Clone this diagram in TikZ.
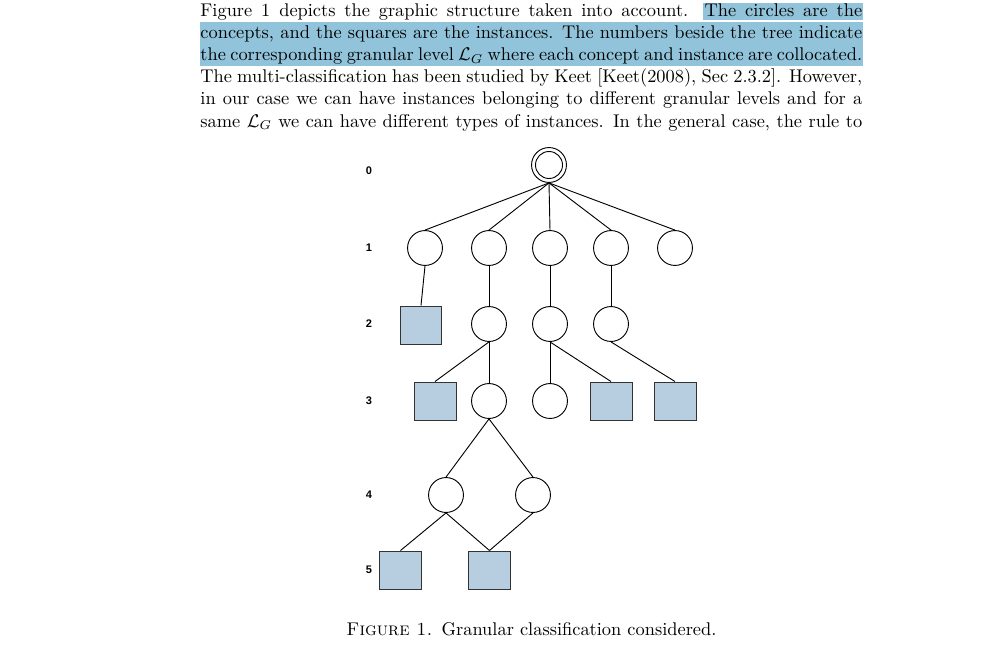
\documentclass[tikz,border=0pt]{standalone}
\usepackage{amsmath,amssymb}
\usepackage{xcolor}
\usepackage{fontspec}
\newfontfamily\lvlfont{Liberation Sans}
\usetikzlibrary{positioning}
\definecolor{hlblue}{RGB}{145,196,219}
\definecolor{sqblue}{RGB}{183,205,224}
\tikzset{crc/.style={circle,draw,minimum size=19pt,inner sep=0pt,line width=0.5pt}}
\tikzset{sq/.style={rectangle,draw=black!80,fill=sqblue,minimum width=22.8pt,minimum height=20.7pt,inner sep=0pt,line width=0.5pt}}
\tikzset{lvl/.style={font=\lvlfont\fontsize{6}{7}\selectfont\bfseries}}
\tikzset{txt/.style={anchor=base west,inner sep=0pt}}
\newcommand{\fullline}[1]{\hbox to 360pt{#1}}

\begin{document}
\begin{tikzpicture}[x=0.544pt,y=-0.544pt,line width=0.5pt]
        \useasboundingbox (0,0) rectangle (1007,654);
        % highlighted sentences
        \fill[hlblue] (703,3) rectangle (863,20.5);
        \fill[hlblue] (200,22) rectangle (863,43.5);
        \fill[hlblue] (200,43.5) rectangle (863,66);

        \node[txt] (l1) at (200,17) {\fullline{Figure 1 depicts the graphic structure taken into account.  The circles are the}};
        \node[txt] (l2) at (200,39) {\fullline{concepts, and the squares are the instances.  The numbers beside the tree indicate}};
        \node[txt] (l3) at (200,61) {\fullline{the corresponding granular level $\mathcal{L}_G$ where each concept and instance are collocated.}};
        \node[txt] (l4) at (200,83) {\fullline{The multi-classification has been studied by Keet [Keet(2008), Sec 2.3.2].  However,}};
        \node[txt] (l5) at (200,105) {\fullline{in our case we can have instances belonging to different granular levels and for a}};
        \node[txt] (l6) at (200,127) {\fullline{same $\mathcal{L}_G$ we can have different types of instances.  In the general case, the rule to}};

        % granular levels
        \node[lvl] (n0) at (369,171) {0};
        \node[lvl] (n1) at (369,248) {1};
        \node[lvl] (n2) at (369,324) {2};
        \node[lvl] (n3) at (369,401) {3};
        \node[lvl] (n4) at (369,495) {4};
        \node[lvl] (n5) at (369,570) {5};

        % tree
        \node[crc] (root) at (549,165) {};
        \node[crc,minimum size=14.7pt] (rootin) at (549,165) {};
        \node[crc] (c11) at (425,248) {};
        \node[crc] (c12) at (489,248) {};
        \node[crc] (c13) at (550,248) {};
        \node[crc] (c14) at (611,248) {};
        \node[crc] (c15) at (675,248) {};

        \node[sq] (s21) at (421,325) {};
        \node[crc] (c22) at (489,324) {};
        \node[crc] (c23) at (550,324) {};
        \node[crc] (c24) at (611,324) {};

        \node[sq] (s31) at (435,401) {};
        \node[crc] (c32) at (489,401) {};
        \node[crc] (c33) at (550,401) {};
        \node[sq] (s34) at (611,401) {};
        \node[sq] (s35) at (675,401) {};

        \node[crc] (c41) at (446,495) {};
        \node[crc] (c42) at (533,495) {};

        \node[sq] (s51) at (400.5,570) {};
        \node[sq] (s52) at (489.5,570) {};

        \foreach \n in {c11,c12,c13,c14,c15}
            \draw (root.south) -- (\n.north);
        \draw (c11.south) -- (s21.north);
        \draw (c12.south) -- (c22.north);
        \draw (c13.south) -- (c23.north);
        \draw (c14.south) -- (c24.north);
        \draw (c22.south) -- (s31.north);
        \draw (c22.south) -- (c32.north);
        \draw (c23.south) -- (c33.north);
        \draw (c23.south) -- (s34.north);
        \draw (c24.south) -- (s35.north);
        \draw (c32.south) -- (c41.north);
        \draw (c32.south) -- (c42.north);
        \draw (c41.south) -- (s51.north);
        \draw (c41.south) -- (s52.north);
        \draw (c42.south) -- (s52.north);

        \node[anchor=base] (cap) at (531.5,635) {{\scshape Figure 1.}\enspace Granular classification considered.};
    \end{tikzpicture}
\end{document}
